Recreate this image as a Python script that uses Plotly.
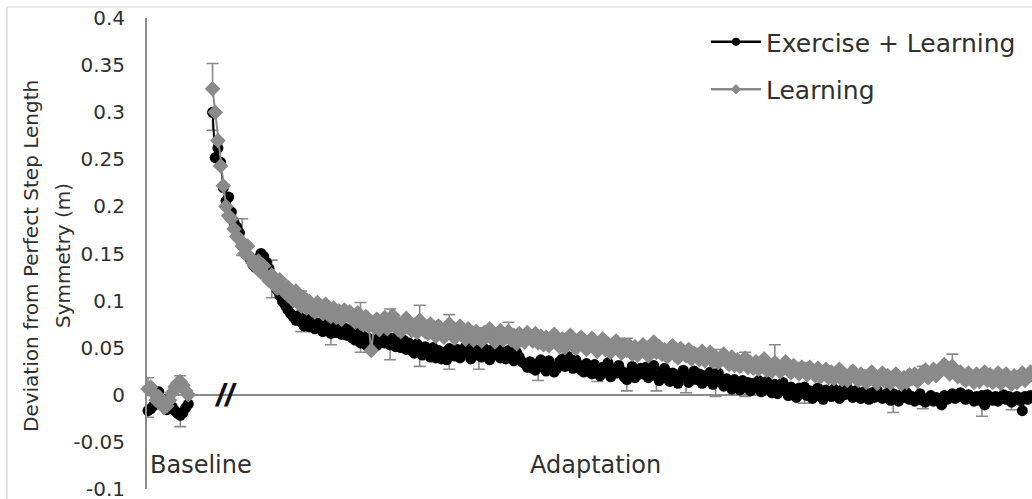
import plotly.graph_objects as go

# ---- data: step length asymmetry per stride (m) ----
base_stride = list(range(1, 17))
adapt_stride = list(range(25, 331))

base_ex = [-0.017, -0.015, -0.012, -0.006, 0.003, -0.004, -0.012, -0.016,
           -0.014, -0.013, -0.017, -0.020, -0.022, -0.019, -0.014, -0.010]
base_ln = [0.006, 0.008, 0.002, -0.006, -0.002, -0.010, -0.014, -0.012,
           -0.006, 0.002, 0.008, 0.012, 0.014, 0.010, 0.004, 0.000]

adapt_ex = [
    0.300, 0.252, 0.262, 0.247, 0.220, 0.206, 0.210, 0.194, 0.183, 0.178,
    0.172, 0.160, 0.156, 0.148, 0.144, 0.138, 0.135, 0.145, 0.150, 0.147,
    0.141, 0.134, 0.127, 0.119, 0.111, 0.105, 0.099, 0.095, 0.090, 0.086,
    0.083, 0.079, 0.084, 0.077, 0.073, 0.081, 0.072, 0.078, 0.070, 0.076,
    0.071, 0.067, 0.077, 0.070, 0.065, 0.075, 0.066, 0.073, 0.064, 0.071,
    0.063, 0.069, 0.060, 0.058, 0.067, 0.055, 0.062, 0.053, 0.060, 0.054,
    0.058, 0.052, 0.061, 0.064, 0.055, 0.062, 0.053, 0.060, 0.051, 0.057,
    0.050, 0.058, 0.048, 0.055, 0.047, 0.044, 0.054, 0.049, 0.042, 0.051,
    0.046, 0.040, 0.050, 0.039, 0.047, 0.038, 0.045, 0.037, 0.049, 0.043,
    0.041, 0.048, 0.039, 0.046, 0.051, 0.043, 0.038, 0.049, 0.042, 0.047,
    0.040, 0.049, 0.044, 0.037, 0.048, 0.042, 0.051, 0.039, 0.045, 0.038,
    0.047, 0.042, 0.036, 0.045, 0.040, 0.035, 0.033, 0.029, 0.035, 0.028,
    0.026, 0.033, 0.037, 0.029, 0.025, 0.036, 0.031, 0.024, 0.028, 0.035,
    0.038, 0.030, 0.041, 0.034, 0.028, 0.037, 0.032, 0.026, 0.024, 0.033,
    0.027, 0.022, 0.032, 0.026, 0.020, 0.029, 0.024, 0.034, 0.019, 0.027,
    0.023, 0.031, 0.025, 0.019, 0.016, 0.024, 0.030, 0.018, 0.021, 0.028,
    0.022, 0.029, 0.018, 0.025, 0.031, 0.020, 0.015, 0.024, 0.028, 0.017,
    0.014, 0.023, 0.017, 0.012, 0.022, 0.026, 0.018, 0.013, 0.020, 0.025,
    0.016, 0.022, 0.012, 0.020, 0.015, 0.024, 0.011, 0.018, 0.023, 0.013,
    0.009, 0.017, 0.012, 0.006, 0.016, 0.010, 0.005, 0.015, 0.008, 0.013,
    0.004, 0.012, 0.007, 0.015, 0.003, 0.010, 0.014, 0.005, 0.002, 0.011,
    0.001, 0.009, 0.013, 0.004, -0.001, 0.008, 0.002, -0.003, 0.007, 0.001,
    0.008, -0.001, 0.004, -0.004, 0.003, 0.007, -0.002, -0.005, 0.005, 0.002,
    -0.002, 0.006, 0.002, -0.004, 0.005, 0.000, 0.007, 0.003, -0.003, 0.004,
    0.001, -0.004, 0.003, -0.002, -0.005, 0.002, -0.003, 0.005, 0.000, -0.004,
    -0.003, 0.002, -0.006, 0.001, -0.004, -0.007, 0.000, -0.003, 0.002, -0.005,
    -0.002, -0.007, -0.003, 0.001, -0.006, -0.008, -0.004, -0.001, -0.007, -0.003,
    -0.006, -0.011, -0.001, -0.005, -0.002, 0.001, -0.004, -0.001, 0.002, -0.003,
    -0.005, 0.000, -0.003, -0.007, -0.002, -0.006, -0.001, -0.011, 0.000, -0.004,
    -0.006, -0.002, -0.007, -0.003, 0.000, -0.005, -0.002, -0.008, -0.005, -0.002,
    -0.006, -0.017, -0.002, -0.005, -0.001, -0.004,
]

adapt_ln = [
    0.325, 0.300, 0.270, 0.243, 0.222, 0.200, 0.190, 0.187, 0.176, 0.168,
    0.165, 0.158, 0.150, 0.158, 0.146, 0.140, 0.136, 0.142, 0.130, 0.137,
    0.126, 0.121, 0.127, 0.117, 0.113, 0.122, 0.112, 0.108, 0.114, 0.104,
    0.100, 0.110, 0.097, 0.094, 0.103, 0.092, 0.099, 0.090, 0.088, 0.098,
    0.093, 0.086, 0.096, 0.085, 0.083, 0.092, 0.082, 0.089, 0.080, 0.090,
    0.085, 0.088, 0.080, 0.077, 0.087, 0.076, 0.074, 0.083, 0.073, 0.047,
    0.072, 0.080, 0.069, 0.078, 0.082, 0.070, 0.076, 0.084, 0.079, 0.069,
    0.067, 0.076, 0.081, 0.077, 0.068, 0.074, 0.066, 0.079, 0.071, 0.067,
    0.065, 0.075, 0.069, 0.062, 0.073, 0.068, 0.061, 0.066, 0.075, 0.067,
    0.060, 0.068, 0.073, 0.065, 0.059, 0.070, 0.064, 0.058, 0.067, 0.063,
    0.057, 0.066, 0.062, 0.070, 0.060, 0.056, 0.065, 0.068, 0.058, 0.064,
    0.067, 0.058, 0.063, 0.054, 0.065, 0.060, 0.056, 0.066, 0.062, 0.057,
    0.065, 0.055, 0.062, 0.053, 0.061, 0.052, 0.059, 0.064, 0.055, 0.051,
    0.059, 0.050, 0.057, 0.063, 0.053, 0.049, 0.058, 0.061, 0.052, 0.048,
    0.056, 0.060, 0.051, 0.046, 0.055, 0.059, 0.048, 0.054, 0.045, 0.052,
    0.057, 0.048, 0.044, 0.053, 0.047, 0.052, 0.043, 0.051, 0.042, 0.049,
    0.053, 0.046, 0.041, 0.050, 0.056, 0.045, 0.051, 0.043, 0.048, 0.040,
    0.046, 0.052, 0.042, 0.039, 0.049, 0.045, 0.041, 0.048, 0.038, 0.044,
    0.042, 0.037, 0.046, 0.036, 0.041, 0.045, 0.035, 0.040, 0.034, 0.039,
    0.043, 0.036, 0.032, 0.040, 0.031, 0.037, 0.030, 0.035, 0.039, 0.029,
    0.034, 0.028, 0.035, 0.027, 0.032, 0.038, 0.026, 0.031, 0.025, 0.034,
    0.030, 0.024, 0.029, 0.035, 0.027, 0.023, 0.031, 0.026, 0.022, 0.029,
    0.026, 0.021, 0.029, 0.024, 0.020, 0.028, 0.019, 0.024, 0.027, 0.018,
    0.024, 0.017, 0.022, 0.027, 0.016, 0.021, 0.015, 0.020, 0.025, 0.018,
    0.015, 0.022, 0.018, 0.013, 0.020, 0.024, 0.016, 0.012, 0.019, 0.023,
    0.014, 0.020, 0.012, 0.017, 0.022, 0.015, 0.011, 0.018, 0.013, 0.021,
    0.017, 0.022, 0.014, 0.019, 0.024, 0.026, 0.018, 0.023, 0.027, 0.020,
    0.024, 0.028, 0.032, 0.026, 0.022, 0.030, 0.025, 0.019, 0.024, 0.017,
    0.015, 0.023, 0.018, 0.013, 0.022, 0.014, 0.019, 0.024, 0.015, 0.021,
    0.013, 0.019, 0.023, 0.012, 0.017, 0.022, 0.014, 0.011, 0.020, 0.013,
    0.018, 0.023, 0.015, 0.020, 0.024, 0.016,
]

# strides carrying error bars and their half-widths (m)
eb_stride = [1, 13,
             25, 36, 47, 58, 69, 80, 91, 102, 113, 124, 135, 146, 157, 168,
             179, 190, 201, 212, 223, 234, 245, 256, 267, 278, 289, 300, 311, 322]
err_ln_plus = [0.012, 0.006,
               0.027, 0.029, 0.016, 0.016, 0.012, 0.022, 0.015, 0.016, 0.010, 0.008,
               0.010, 0.010, 0.008, 0.010, 0.013, 0.010, 0.008, 0.008, 0.006, 0.019,
               0.008, 0.010, 0.008, 0.006, 0.006, 0.013, 0.006, 0.011]
err_ex_minus = [0.007, 0.012,
                0.019, 0.012, 0.024, 0.010, 0.012, 0.010, 0.016, 0.019, 0.022, 0.020,
                0.012, 0.018, 0.012, 0.012, 0.012, 0.016, 0.016, 0.020, 0.010, 0.012,
                0.017, 0.007, 0.007, 0.020, 0.009, 0.008, 0.022, 0.008]

y_ticks = [-0.1, -0.05, 0, 0.05, 0.1, 0.15, 0.2, 0.25, 0.3, 0.35, 0.4]
y_tick_text = ["-0.1", "-0.05", "0", "0.05", "0.1", "0.15", "0.2", "0.25", "0.3", "0.35", "0.4"]

BLACK = "#000000"
GREY = "#8a8a8a"
TEXT = "#303030"
FONT = "DejaVu Sans, Liberation Sans, Arial, sans-serif"

# ---- assemble series (gap between baseline and adaptation) ----
x_all = base_stride + [None] + adapt_stride
ex_all = base_ex + [None] + adapt_ex
ln_all = base_ln + [None] + adapt_ln

lookup_ex = dict(zip(base_stride + adapt_stride, base_ex + adapt_ex))
lookup_ln = dict(zip(base_stride + adapt_stride, base_ln + adapt_ln))

fig = go.Figure()

# error bars (drawn first so the markers sit on top)
fig.add_trace(go.Scatter(
    x=eb_stride, y=[lookup_ex[s] for s in eb_stride], mode="markers",
    marker=dict(size=1, color="rgba(0,0,0,0)"), showlegend=False, hoverinfo="skip",
    cliponaxis=False,
    error_y=dict(type="data", symmetric=False, array=[0] * len(eb_stride),
                 arrayminus=err_ex_minus, color=GREY, thickness=1.6, width=6),
))
fig.add_trace(go.Scatter(
    x=eb_stride, y=[lookup_ln[s] for s in eb_stride], mode="markers",
    marker=dict(size=1, color="rgba(0,0,0,0)"), showlegend=False, hoverinfo="skip",
    cliponaxis=False,
    error_y=dict(type="data", symmetric=False, array=err_ln_plus,
                 arrayminus=[0] * len(eb_stride), color=GREY, thickness=1.6, width=6),
))

fig.add_trace(go.Scatter(
    x=x_all, y=ex_all, mode="lines+markers", name="Exercise + Learning",
    line=dict(color=BLACK, width=2), connectgaps=False,
    marker=dict(symbol="circle", size=11, color=BLACK),
    cliponaxis=False, showlegend=False,
))
fig.add_trace(go.Scatter(
    x=x_all, y=ln_all, mode="lines+markers", name="Learning",
    line=dict(color=GREY, width=2), connectgaps=False,
    marker=dict(symbol="diamond", size=12, color=GREY),
    cliponaxis=False, showlegend=False,
))

# legend entries
fig.add_trace(go.Scatter(
    x=[None], y=[None], mode="lines+markers", name="Exercise + Learning",
    line=dict(color=BLACK, width=2.5), marker=dict(symbol="circle", size=8, color=BLACK),
    legendgroup="a",
))
fig.add_trace(go.Scatter(
    x=[None], y=[None], mode="lines+markers", name="Learning",
    line=dict(color=GREY, width=2.5), marker=dict(symbol="diamond", size=8, color=GREY),
    legendgroup="b",
))

L, R, T, B = 147, 0, 18, 10
W, H = 1032, 499
pw, ph = W - L - R, H - T - B


def px_x(p):
    return (p - L) / pw


def px_y(p):
    return (H - B - p) / ph


fig.update_layout(
    width=W, height=H,
    margin=dict(l=L, r=R, t=T, b=B, autoexpand=False),
    paper_bgcolor="white", plot_bgcolor="white",
    font=dict(family=FONT, color=TEXT),
    xaxis=dict(range=[0.63, 329.6], showgrid=False, zeroline=False, showline=False,
               showticklabels=False, ticks="", automargin=False),
    yaxis=dict(range=[-0.1003, 0.4003], tickvals=y_ticks, ticktext=y_tick_text,
               showgrid=False, zeroline=True, zerolinecolor="#8c8c8c", zerolinewidth=2,
               showline=True, linecolor="#8c8c8c", linewidth=2, ticks="",
               ticklabeloverflow="allow", automargin=False,
               tickfont=dict(size=20, color=TEXT, family=FONT), ticklabelstandoff=16),
    legend=dict(x=px_x(706), y=px_y(19), xanchor="left", yanchor="top",
                bgcolor="rgba(0,0,0,0)", font=dict(size=25, color=TEXT, family=FONT),
                tracegroupgap=12, itemwidth=50),
    showlegend=True,
)

# y-axis title, two lines
fig.add_annotation(
    text="Deviation from Perfect Step Length",
    textangle=-90, xref="paper", yref="paper", x=px_x(31), y=px_y(256),
    xanchor="center", yanchor="middle", showarrow=False,
    font=dict(size=20, color=TEXT, family=FONT),
)
fig.add_annotation(
    text="Symmetry (m)",
    textangle=-90, xref="paper", yref="paper", x=px_x(63), y=px_y(256),
    xanchor="center", yanchor="middle", showarrow=False,
    font=dict(size=20, color=TEXT, family=FONT),
)
fig.add_annotation(text="Baseline", xref="paper", yref="paper", x=px_x(148), y=px_y(465),
                   xanchor="left", yanchor="middle", showarrow=False,
                   font=dict(size=24, color=TEXT, family=FONT))
fig.add_annotation(text="Adaptation", xref="paper", yref="paper", x=px_x(595), y=px_y(465),
                   xanchor="center", yanchor="middle", showarrow=False,
                   font=dict(size=24, color=TEXT, family=FONT))
# axis break mark
fig.add_annotation(text="<b><i>//</i></b>", xref="paper", yref="y", x=px_x(225), y=0,
                   xanchor="center", yanchor="middle", showarrow=False,
                   font=dict(size=32, color="#111111", family="Liberation Sans, Arial, sans-serif"))

# chart-area frame
fig.add_shape(type="rect", xref="paper", yref="paper",
              x0=px_x(7), y0=px_y(520), x1=px_x(1060), y1=px_y(7),
              line=dict(color="#d4d4d4", width=1.2), fillcolor="rgba(0,0,0,0)", layer="below")

fig.write_html("out.html")
